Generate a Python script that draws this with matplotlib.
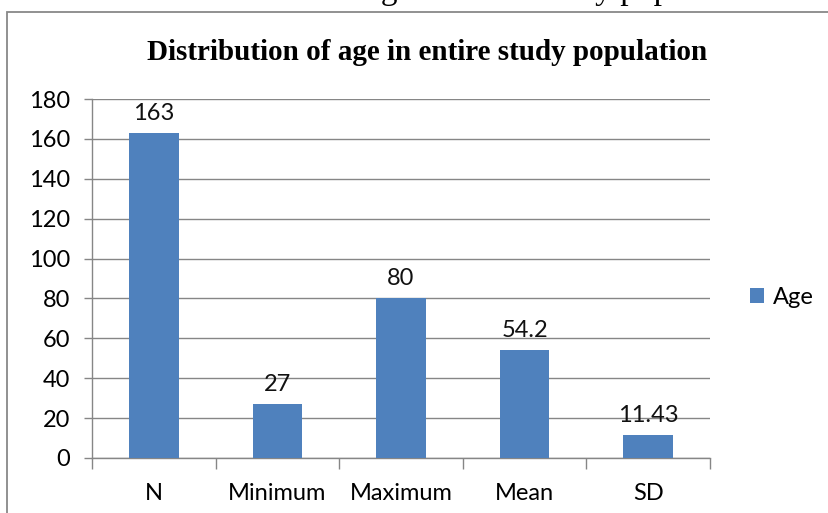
import matplotlib.pyplot as plt
from matplotlib.patches import Rectangle

# chart data
categories = ['N', 'Minimum', 'Maximum', 'Mean', 'SD']
age_values = [163, 27, 80, 54.2, 11.43]
value_labels = ['163', '27', '80', '54.2', '11.43']
yticks = [0, 20, 40, 60, 80, 100, 120, 140, 160, 180]

W, H = 829, 513
bar_color = '#4f81bd'
grid_color = '#868686'
label_font = 'Lato'
fs = 17

fig = plt.figure(figsize=(W / 100, H / 100), dpi=100)

# outer chart frame (cut off at right and bottom)
fig.patches.append(Rectangle((7 / W, -0.1), 1.2, (H - 12) / H + 0.1,
                             transform=fig.transFigure, fill=False,
                             edgecolor='#888888', lw=1.3))

# caption above the chart, mostly cut off by the top edge
fig.text(0.487, 1.0 + 1 / H, 'Table 1: Distribution of age in entire study population',
         ha='center', va='baseline', family='Liberation Serif', fontsize=24)

left, right = 92 / W, 710 / W
bottom, top = 1 - 458 / H, 1 - 99 / H
ax = fig.add_axes([left, bottom, right - left, top - bottom])

x = range(len(categories))
ax.bar(x, age_values, width=0.4, color=bar_color, zorder=3, label='Age')
for i, (v, s) in enumerate(zip(age_values, value_labels)):
    ax.text(i, v + 4.5, s, ha='center', va='bottom', fontsize=fs,
            family=label_font, color='#111111')

ax.set_xlim(-0.5, len(categories) - 0.5)
ax.set_ylim(0, 180)
ax.set_yticks(yticks)
ax.set_yticklabels([str(t) for t in yticks], family=label_font, fontsize=fs)
ax.yaxis.grid(True, color=grid_color, lw=1, zorder=0)

ax.set_xticks(list(x))
ax.set_xticklabels(categories, family=label_font, fontsize=fs)
ax.set_xticks([i - 0.5 for i in range(len(categories) + 1)], minor=True)
ax.tick_params(axis='x', which='major', length=0, pad=18)
ax.tick_params(axis='x', which='minor', length=8, color=grid_color, width=1)
ax.tick_params(axis='y', length=6, color=grid_color, width=1, pad=10)

for side in ['top', 'right']:
    ax.spines[side].set_visible(False)
for side in ['left', 'bottom']:
    ax.spines[side].set_color(grid_color)
    ax.spines[side].set_linewidth(1)

fig.text(427 / W, 1 - 52 / H, 'Distribution of age in entire study population',
         ha='center', va='center', family='Liberation Serif', weight='bold',
         fontsize=21)

leg = fig.legend(loc='center left', bbox_to_anchor=(750 / W, 1 - 297 / H),
                 frameon=False, prop={'family': label_font, 'size': fs},
                 borderpad=0, borderaxespad=0,
                 handlelength=0.6, handleheight=0.6, handletextpad=0.35)

fig.savefig('out.png', dpi=100)
